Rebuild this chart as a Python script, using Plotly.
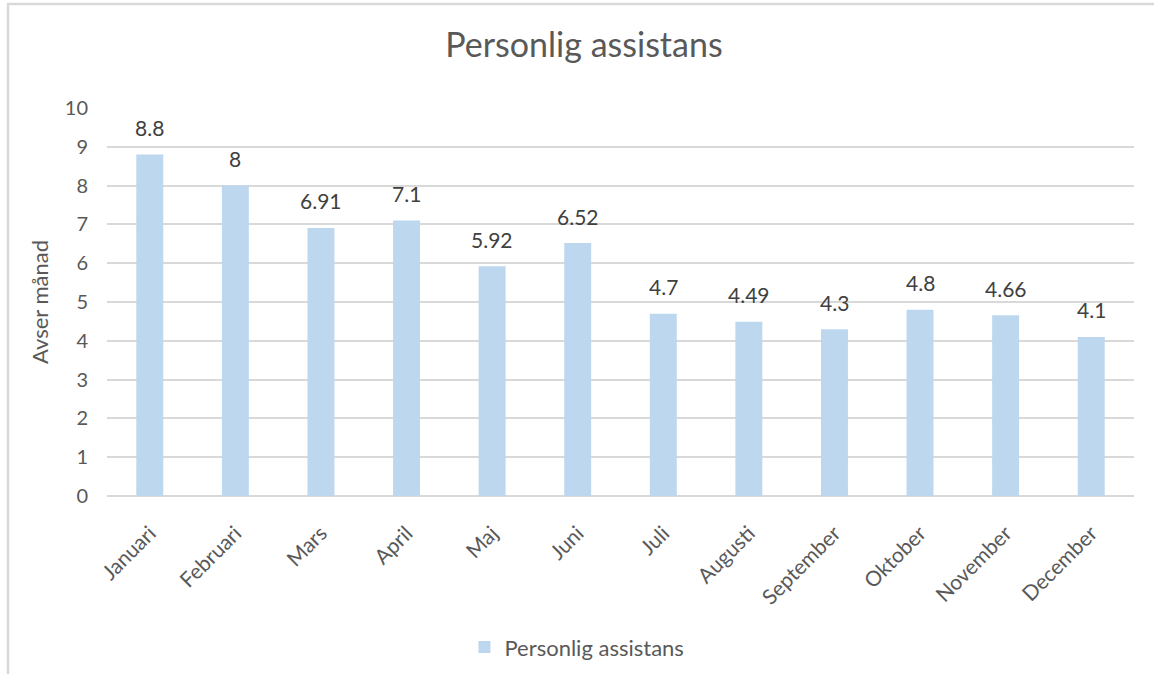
import plotly.graph_objects as go

months = ["Januari", "Februari", "Mars", "April", "Maj", "Juni", "Juli",
          "Augusti", "September", "Oktober", "November", "December"]
values = [8.8, 8, 6.91, 7.1, 5.92, 6.52, 4.7, 4.49, 4.3, 4.8, 4.66, 4.1]
labels = ["8.8", "8", "6.91", "7.1", "5.92", "6.52", "4.7", "4.49", "4.3", "4.8", "4.66", "4.1"]
series_name = "Personlig assistans"
y_ticks = list(range(0, 11))

FONT = "Lato, Open Sans, sans-serif"
GREY = "#595959"

fig = go.Figure()
fig.add_trace(go.Bar(
    x=months, y=values, name=series_name,
    marker=dict(color="#BDD7EE", line=dict(width=0)),
))

for m, v, t in zip(months, values, labels):
    fig.add_annotation(x=m, y=v, text=t, showarrow=False, yanchor="middle",
                       yshift=27, font=dict(family=FONT, size=21, color="#404040"))

fig.update_layout(
    width=1154, height=674,
    paper_bgcolor="white", plot_bgcolor="white",
    margin=dict(l=107, r=20, t=108, b=178, autoexpand=False),
    bargap=0.685,
    title=dict(text="Personlig assistans", x=584 / 1154, xanchor="center",
               y=1 - 45 / 674, yanchor="middle",
               font=dict(family=FONT, size=34, color=GREY)),
    showlegend=True,
    legend=dict(orientation="h", x=0.4576, xanchor="center", y=-0.39, yanchor="middle",
                font=dict(family=FONT, size=22, color=GREY)),
    font=dict(family=FONT, color=GREY),
)
fig.update_yaxes(
    range=[0, 10], tickvals=y_ticks, ticktext=[str(t) for t in y_ticks],
    showgrid=True, gridcolor="#D9D9D9", gridwidth=1.5,
    zeroline=True, zerolinecolor="#D9D9D9", zerolinewidth=1.5,
    showline=False, ticks="", ticklabelstandoff=18, automargin=False,
    tickfont=dict(family=FONT, size=20, color=GREY),
    title=dict(text="Avser månad", font=dict(family=FONT, size=22, color=GREY), standoff=10),
)
fig.update_xaxes(
    showgrid=False, showline=False, ticks="", tickangle=-45, automargin=False,
    ticklabelstandoff=20,
    tickfont=dict(family=FONT, size=21, color=GREY),
)

# chart border (top and left edges visible in reference)
fig.add_shape(type="rect", xref="paper", yref="paper",
              x0=-99 / 1027, x1=1.2, y0=-1.0, y1=1 + 104 / 388,
              line=dict(color="#D9D9D9", width=2.5), fillcolor="rgba(0,0,0,0)", layer="below")

fig.write_html("out.html", config={"displayModeBar": False},
               post_script="document.body.style.margin='0px';")
